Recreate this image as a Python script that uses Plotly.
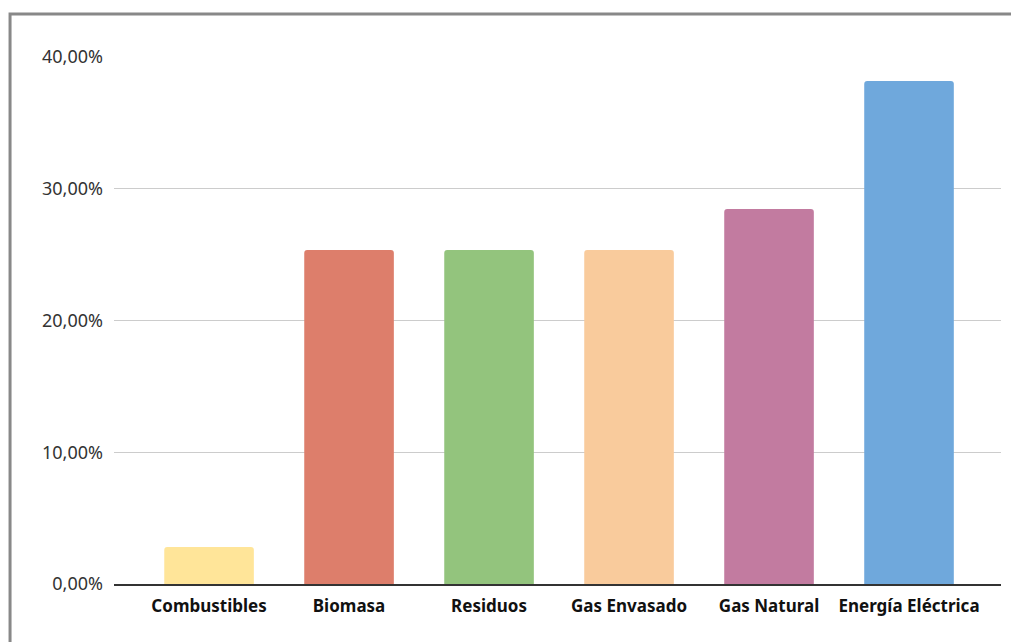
import plotly.graph_objects as go

categories = ["Combustibles", "Biomasa", "Residuos", "Gas Envasado", "Gas Natural", "Energía Eléctrica"]
values = [0.0281, 0.2535, 0.2535, 0.2535, 0.2846, 0.3818]
colors = ["#ffe599", "#dd7e6b", "#93c47d", "#f9cb9c", "#c27ba0", "#6fa8dc"]
y_ticks = [0, 0.1, 0.2, 0.3, 0.4]

fig = go.Figure(go.Bar(
    x=categories, y=values, width=0.64,
    marker=dict(color=colors, cornerradius=3, line=dict(width=0)),
    hovertemplate="%{x}: %{y:.2%}<extra></extra>",
))

# page body has an 8px margin, so the figure is sized/offset to compensate
fig.update_layout(
    width=1011, height=634,
    margin=dict(l=106, r=18, t=49, b=58),
    paper_bgcolor="white", plot_bgcolor="white",
    separators=",.",
    showlegend=False,
    font=dict(family="Noto Sans", size=17, color="#222222"),
    shapes=[dict(type="rect", xref="paper", yref="paper",
                 x0=-0.1172, x1=1.1, y0=-0.3, y1=1.0816,
                 line=dict(color="#888888", width=3), fillcolor="rgba(0,0,0,0)", layer="below")],
)
fig.update_xaxes(
    range=[-0.679, 5.657], showgrid=False, showline=True, linecolor="#333333", linewidth=1.5,
    ticks="", tickfont=dict(family="Noto Sans", size=17, color="#111111", weight="bold"),
    ticklabelstandoff=6,
)
fig.update_yaxes(
    range=[0, 0.40], tickvals=y_ticks, tickformat=".2%", showgrid=True, gridcolor="#cccccc",
    gridwidth=1, zeroline=False, showline=False, ticks="", ticklabelstandoff=10,
    tickfont=dict(family="Noto Sans", size=18, color="#333333"),
)
fig.write_html("out.html")
